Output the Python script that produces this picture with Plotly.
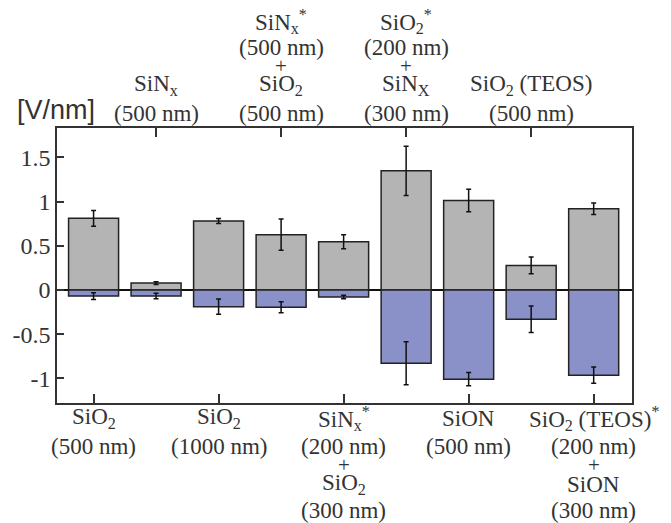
import plotly.graph_objects as go

# ---- data ----
positions = [0, 1, 2, 3, 4, 5, 6, 7, 8]
pos_values = [0.81, 0.078, 0.78, 0.625, 0.545, 1.347, 1.012, 0.278, 0.918]
pos_errors = [0.09, 0.015, 0.027, 0.177, 0.079, 0.278, 0.128, 0.094, 0.066]
neg_values = [-0.068, -0.068, -0.188, -0.196, -0.079, -0.828, -1.008, -0.331, -0.963]
neg_errors = [0.038, 0.03, 0.087, 0.062, 0.02, 0.243, 0.075, 0.15, 0.092]

bottom_idx = [0, 2, 4, 6, 8]
bottom_labels = [
    ["SiO<sub>2</sub>", "(500 nm)"],
    ["SiO<sub>2</sub>", "(1000 nm)"],
    ["SiN<sub>x</sub><sup>*</sup>", "(200 nm)", "+", "SiO<sub>2</sub>", "(300 nm)"],
    ["SiON", "(500 nm)"],
    ["SiO<sub>2</sub> (TEOS)<sup>*</sup>", "(200 nm)", "+", "SiON", "(300 nm)"],
]
top_idx = [1, 3, 5, 7]
top_labels = [
    ["SiN<sub>x</sub>", "(500 nm)"],
    ["SiN<sub>x</sub><sup>*</sup>", "(500 nm)", "+", "SiO<sub>2</sub>", "(500 nm)"],
    ["SiO<sub>2</sub><sup>*</sup>", "(200 nm)", "+", "SiN<sub>X</sub>", "(300 nm)"],
    ["SiO<sub>2</sub> (TEOS)", "(500 nm)"],
]
y_tickvals = [-1, -0.5, 0, 0.5, 1, 1.5]
y_ticktext = ["-1", "-0.5", "0", "0.5", "1", "1.5"]
unit_label = "[V/nm]"

# ---- style ----
SERIF = "Liberation Serif, Times New Roman, serif"
TXT = "#333333"
GRAY = "#b4b4b4"
BLUE = "#8a91c8"
XR = [-0.585, 8.613]

fig = go.Figure()
fig.add_trace(go.Bar(
    x=positions, y=pos_values, width=0.8,
    marker=dict(color=GRAY, line=dict(color="#222222", width=1.5)),
    error_y=dict(type="data", array=pos_errors, color="#111111", thickness=1.5, width=2.5),
    showlegend=False,
))
fig.add_trace(go.Bar(
    x=positions, y=neg_values, width=0.8,
    marker=dict(color=BLUE, line=dict(color="#222222", width=1.5)),
    error_y=dict(type="data", array=neg_errors, color="#111111", thickness=1.5, width=2.5),
    showlegend=False,
))
# invisible trace to anchor the top axis
fig.add_trace(go.Scatter(x=top_idx, y=[0] * len(top_idx), xaxis="x2", mode="markers",
                         marker=dict(opacity=0), hoverinfo="skip", showlegend=False))

fig.update_layout(
    width=671, height=523,
    margin=dict(l=55, r=39, t=128, b=120),
    plot_bgcolor="white", paper_bgcolor="white",
    barmode="overlay",
    xaxis=dict(range=XR, tickvals=bottom_idx, ticks="inside", ticklen=9, tickwidth=1.5,
               tickcolor=TXT, showticklabels=False, showline=True, linecolor=TXT,
               linewidth=1.5, mirror=True, showgrid=False, zeroline=False),
    xaxis2=dict(range=XR, overlaying="x", side="top", tickvals=top_idx, ticks="inside",
                ticklen=9, tickwidth=1.5, tickcolor=TXT, showticklabels=False,
                showline=False, showgrid=False, zeroline=False),
    yaxis=dict(range=[-1.277, 1.831], tickvals=y_tickvals, ticktext=y_ticktext,
               ticks="inside", ticklen=7, tickwidth=1.5, tickcolor=TXT,
               tickfont=dict(family=SERIF, size=24, color=TXT),
               showline=True, linecolor=TXT, linewidth=1.5, mirror=True,
               showgrid=False, zeroline=True, zerolinecolor="#111111", zerolinewidth=1.5,
               layer="above traces"),
)

offsets_2 = [15, 43]
offsets_5 = [15, 43, 62, 81, 107]


def line_font(text):
    return dict(family=SERIF, size=21 if text == "+" else 23, color=TXT)


annotations = []
for xi, lines in zip(bottom_idx, bottom_labels):
    offs = offsets_2 if len(lines) == 2 else offsets_5
    for line, off in zip(lines, offs):
        annotations.append(dict(x=xi, xref="x", y=0, yref="paper", yshift=-off,
                                yanchor="middle", xanchor="center", text=line,
                                showarrow=False, font=line_font(line)))
for xi, lines in zip(top_idx, top_labels):
    offs = offsets_2 if len(lines) == 2 else offsets_5
    for line, off in zip(reversed(lines), offs):
        annotations.append(dict(x=xi, xref="x", y=1, yref="paper", yshift=off,
                                yanchor="middle", xanchor="center", text=line,
                                showarrow=False, font=line_font(line)))
annotations.append(dict(x=-0.0017, xref="paper", y=1, yref="paper", yshift=18,
                        xanchor="center", yanchor="middle", text=unit_label, showarrow=False,
                        font=dict(family="Liberation Sans, Arial, sans-serif", size=27, color=TXT)))
fig.update_layout(annotations=annotations)

fig.write_html("out.html")
